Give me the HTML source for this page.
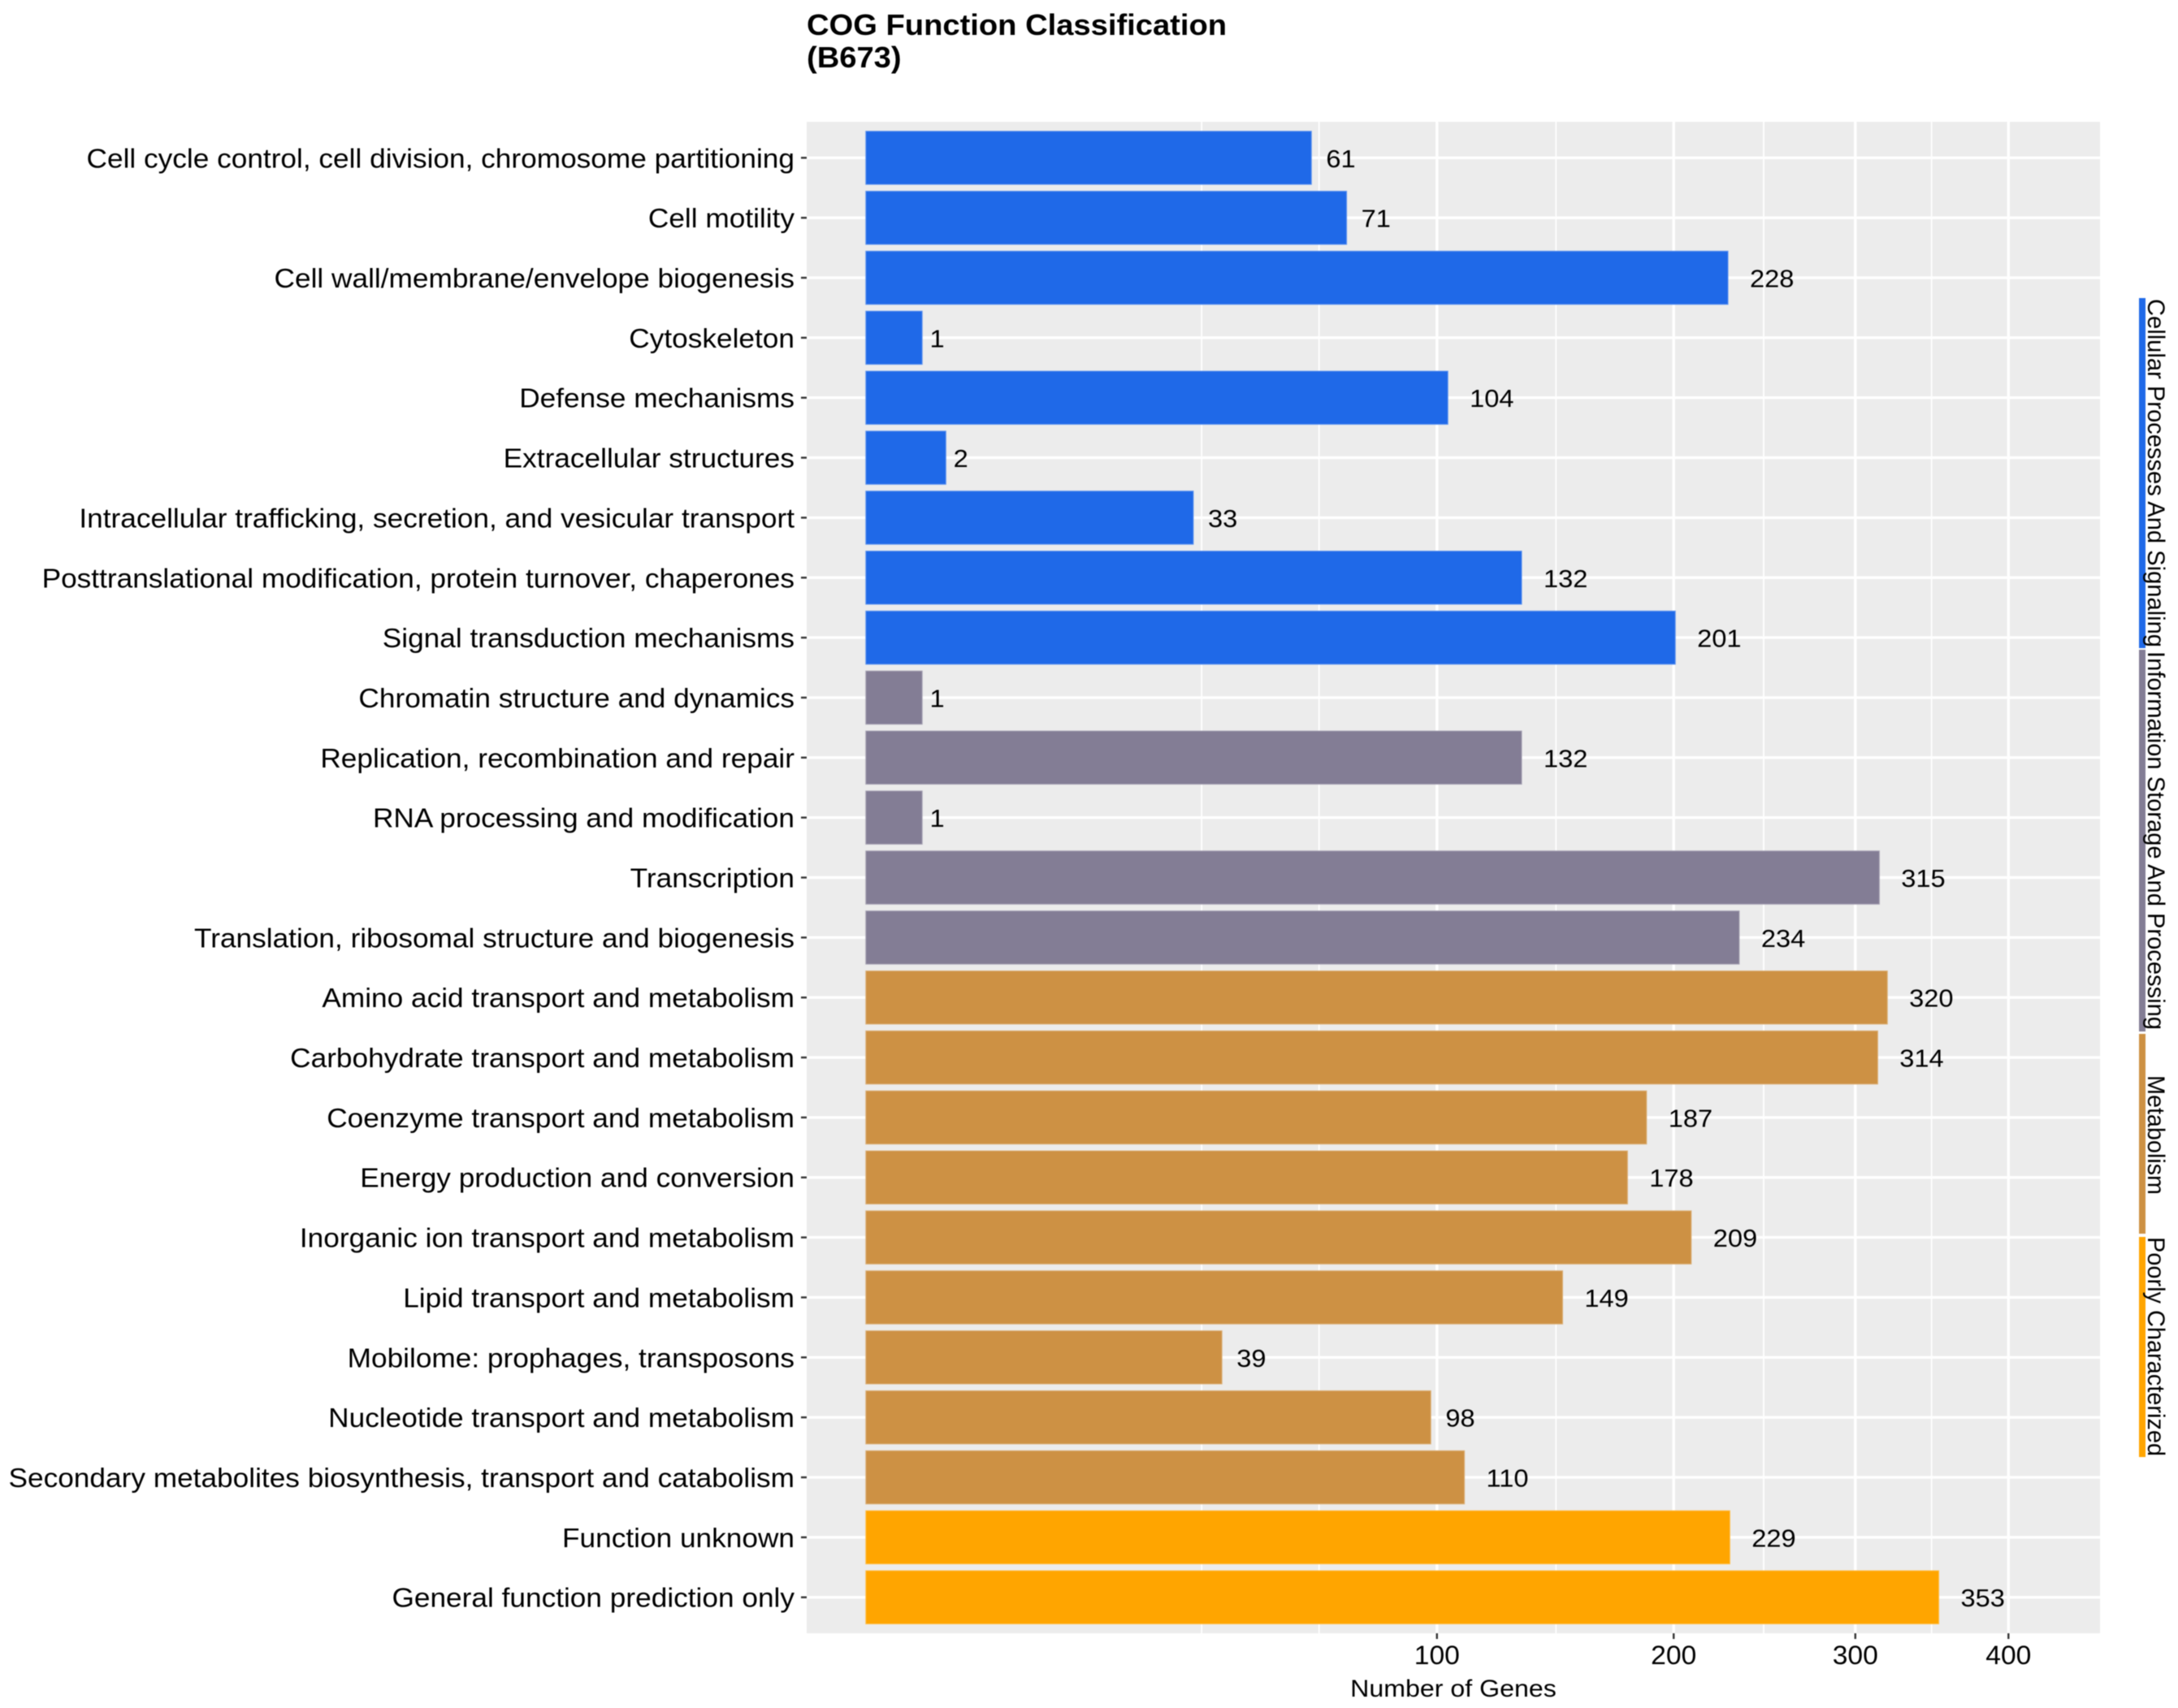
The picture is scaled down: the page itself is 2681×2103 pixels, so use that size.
<!DOCTYPE html>
<html>
<head>
<meta charset="utf-8">
<title>COG Function Classification (B673)</title>
<style>
html,body{margin:0;padding:0;background:#fff;}
svg{display:block;font-family:"Liberation Sans",sans-serif;filter:blur(0.6px);}
</style>
</head>
<body>
<svg id="chart" xmlns="http://www.w3.org/2000/svg" width="2681" height="2103" viewBox="0 0 2681 2103">
  <rect x="0" y="0" width="2681" height="2103" fill="#ffffff"/>
  <text transform="translate(993,43) scale(1.06,1)" font-size="36" font-weight="bold" fill="#000">COG Function Classification</text>
  <text transform="translate(993,83) scale(1.06,1)" font-size="36" font-weight="bold" fill="#000">(B673)</text>
  <rect x="993" y="150" width="1592" height="1861" fill="#ececec"/>
  <g id="grid"></g>
  <g id="bars"></g>
  <g id="values"></g>
  <g id="yaxis"></g>
  <g id="xaxis"></g>
  <text transform="translate(1789,2089) scale(1.072,1)" font-size="30" text-anchor="middle" fill="#000">Number of Genes</text>
  <g>
    <rect x="2633" y="367" width="8" height="431" fill="#1f69e8"/>
    <rect x="2633" y="800" width="8" height="470" fill="#837d95"/>
    <rect x="2633" y="1273" width="8" height="246" fill="#cd9144"/>
    <rect x="2633" y="1523" width="8" height="271" fill="#ffa500"/>
    <text transform="translate(2644,368) rotate(90)" font-size="30" textLength="429" lengthAdjust="spacingAndGlyphs" fill="#000">Cellular Processes And Signaling</text>
    <text transform="translate(2644,802) rotate(90)" font-size="30" textLength="466" lengthAdjust="spacingAndGlyphs" fill="#000">Information Storage And Processing</text>
    <text transform="translate(2644,1324) rotate(90)" font-size="30" textLength="147" lengthAdjust="spacingAndGlyphs" fill="#000">Metabolism</text>
    <text transform="translate(2644,1523) rotate(90)" font-size="30" textLength="270" lengthAdjust="spacingAndGlyphs" fill="#000">Poorly Characterized</text>
  </g>
</svg>
<script>
const categories = [
  "Cell cycle control, cell division, chromosome partitioning",
  "Cell motility",
  "Cell wall/membrane/envelope biogenesis",
  "Cytoskeleton",
  "Defense mechanisms",
  "Extracellular structures",
  "Intracellular trafficking, secretion, and vesicular transport",
  "Posttranslational modification, protein turnover, chaperones",
  "Signal transduction mechanisms",
  "Chromatin structure and dynamics",
  "Replication, recombination and repair",
  "RNA processing and modification",
  "Transcription",
  "Translation, ribosomal structure and biogenesis",
  "Amino acid transport and metabolism",
  "Carbohydrate transport and metabolism",
  "Coenzyme transport and metabolism",
  "Energy production and conversion",
  "Inorganic ion transport and metabolism",
  "Lipid transport and metabolism",
  "Mobilome: prophages, transposons",
  "Nucleotide transport and metabolism",
  "Secondary metabolites biosynthesis, transport and catabolism",
  "Function unknown",
  "General function prediction only"
];
const geneCounts = [61,71,228,1,104,2,33,132,201,1,132,1,315,234,320,314,187,178,209,149,39,98,110,229,353];
const groups = ["C","C","C","C","C","C","C","C","C","I","I","I","I","I","M","M","M","M","M","M","M","M","M","P","P"];
const groupColors = {C:"#1f69e8", I:"#837d95", M:"#cd9144", P:"#ffa500"};
const xTicks = [100,200,300,400];
const xMinor = [34.6,63,146,247,348];

const NS = "http://www.w3.org/2000/svg";
const panel = {left:993, right:2585, top:150, bottom:2011};
const band = (panel.bottom - panel.top) / (categories.length - 1 + 1.2);
const textStretch = 1.052;
function xScale(v){ return 1065.3 + Math.sqrt(v) * 70.35; }
function yScale(i){ return panel.top + band * (0.6 + i); }
function make(tag, attrs, parent, text){
  const el = document.createElementNS(NS, tag);
  for (const k in attrs) el.setAttribute(k, attrs[k]);
  if (text !== undefined) el.textContent = text;
  parent.appendChild(el);
  return el;
}
function place(x, y){ return "translate(" + x + "," + y + ") scale(" + textStretch + ",1)"; }
const gridG = document.getElementById("grid");
const barsG = document.getElementById("bars");
const valuesG = document.getElementById("values");
const yG = document.getElementById("yaxis");
const xG = document.getElementById("xaxis");

xMinor.forEach(function(v){
  const l = make("line",{x1:xScale(v),x2:xScale(v),y1:panel.top,y2:panel.bottom,stroke:"#fff","stroke-width":1.8},gridG);
  
  
});
xTicks.forEach(function(v){
  const x = xScale(v);
  const l = make("line",{x1:x,x2:x,y1:panel.top,y2:panel.bottom,stroke:"#fff","stroke-width":3.4},gridG);
  
  
  const t = make("line",{x1:x,x2:x,y1:panel.bottom,y2:panel.bottom+7,stroke:"#333","stroke-width":2.4},xG);
  
  
  const lab = make("text",{transform:place(x,2049),"font-size":32,"text-anchor":"middle",fill:"#000"},xG,String(v));
  
  
});
categories.forEach(function(c,i){
  const y = yScale(i);
  const g = make("line",{x1:panel.left,x2:panel.right,y1:y,y2:y,stroke:"#fff","stroke-width":3.4},gridG);
  
  
  const color = groupColors[groups[i]];
  const end = xScale(geneCounts[i]);
  const b = make("rect",{x:xScale(0),y:y-band*0.45,width:end-xScale(0),height:band*0.9,fill:color},barsG);
  
  
  const edge = make("rect",{x:xScale(0)+0.5,y:y-band*0.45+0.5,width:end-xScale(0)-1,height:band*0.9-1,fill:"none",stroke:"#fff","stroke-width":1,"stroke-opacity":0.3},barsG);
  
  
  const label = String(geneCounts[i]);
  const vl = make("text",{transform:place(end+0.5*label.length*17.6,y+11.5),"font-size":31,fill:"#000"},valuesG,label);
  
  
  const tk = make("line",{x1:panel.left-7,x2:panel.left,y1:y,y2:y,stroke:"#333","stroke-width":2.4},yG);
  
  
  const yl = make("text",{transform:place(978,y+12),"font-size":33.5,"text-anchor":"end",fill:"#000"},yG,c);
  
  
});
</script>
</body>
</html>
